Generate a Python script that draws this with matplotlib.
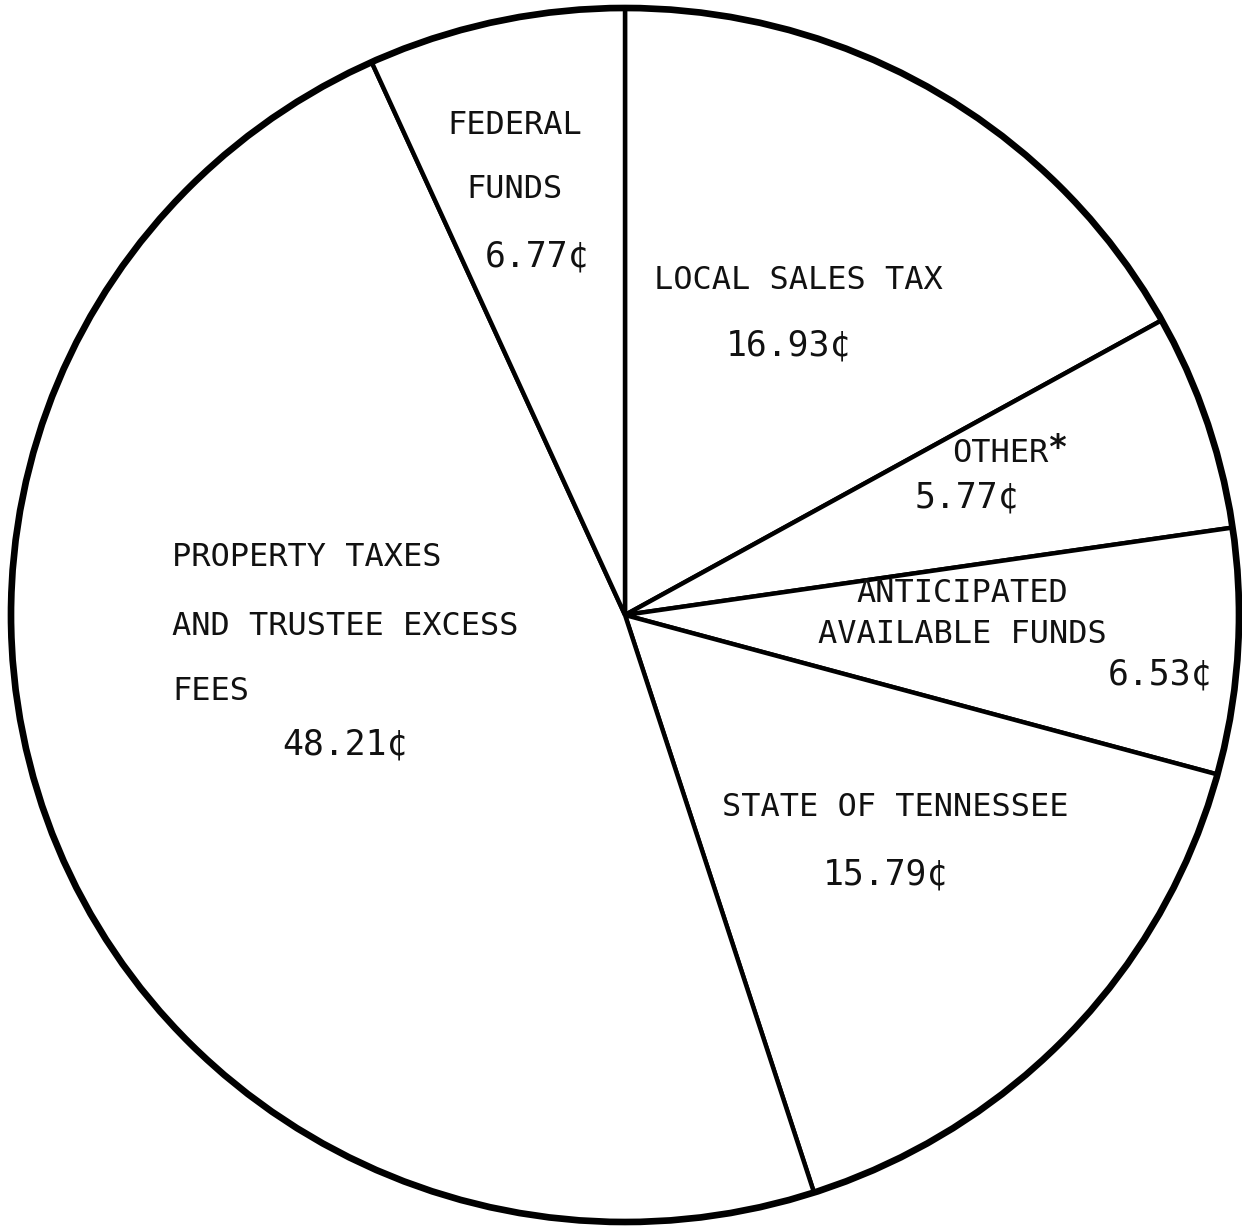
# Pie chart: where each revenue cent comes from
import matplotlib.pyplot as plt
from matplotlib.patches import Circle

# Data
fuentes = ['LOCAL SALES TAX', 'OTHER', 'ANTICIPATED AVAILABLE FUNDS',
           'STATE OF TENNESSEE',
           'PROPERTY TAXES AND TRUSTEE EXCESS FEES', 'FEDERAL FUNDS']
centavos = [16.93, 5.77, 6.53, 15.79, 48.21, 6.77]

W, H = 1242, 1226
k = 614.0 / 607.0          # the drawn circle is a touch wider than tall


def py(y):
    # pixel row (from top) -> data y
    return (H - y) * k


cx, cy, r = 625, py(615), 614

fig = plt.figure(figsize=(W / 100, H / 100), dpi=100)
ax = fig.add_axes([0, 0, 1, 1])

ax.pie(centavos, startangle=90, counterclock=False, center=(cx, cy),
       radius=r, colors=['white'] * len(centavos),
       wedgeprops=dict(edgecolor='black', linewidth=3.2))
ax.add_patch(Circle((cx, cy), r, fill=False, edgecolor='black', lw=4.8))

ax.set_xlim(0, W)
ax.set_ylim(0, H * k)
ax.set_aspect('auto')
ax.axis('off')

fuente = 'DejaVu Sans Mono'
fs_rot = 23   # rótulos
fs_val = 25   # valores


def rotulo(x, y, s, size=fs_rot, ha='center'):
    ax.text(x, py(y), s, fontsize=size, family=fuente, ha=ha, va='center',
            color='#111111')


def valor(x, y, v, ha='center'):
    rotulo(x, y, f'{v:.2f}¢', size=fs_val, ha=ha)


# Federal funds
rotulo(515, 125, 'FEDERAL')
rotulo(515, 190, 'FUNDS')
valor(537, 257, centavos[5])

# Local sales tax
rotulo(798, 280, 'LOCAL SALES TAX')
valor(788, 345, centavos[0])

# Other
rotulo(1000, 453, 'OTHER')
ax.text(1058, py(448), '*', fontsize=24, family=fuente, ha='center',
        va='center', color='#111111', fontweight='bold')
valor(967, 497, centavos[1])

# Anticipated available funds
rotulo(962, 593, 'ANTICIPATED')
rotulo(962, 634, 'AVAILABLE FUNDS')
valor(1160, 675, centavos[2])

# State of Tennessee
rotulo(895, 807, 'STATE OF TENNESSEE')
valor(885, 875, centavos[3])

# Property taxes
rotulo(172, 557, 'PROPERTY TAXES', ha='left')
rotulo(172, 626, 'AND TRUSTEE EXCESS', ha='left')
rotulo(172, 691, 'FEES', ha='left')
valor(345, 745, centavos[4])

fig.savefig('out.png', dpi=100, facecolor='white')
